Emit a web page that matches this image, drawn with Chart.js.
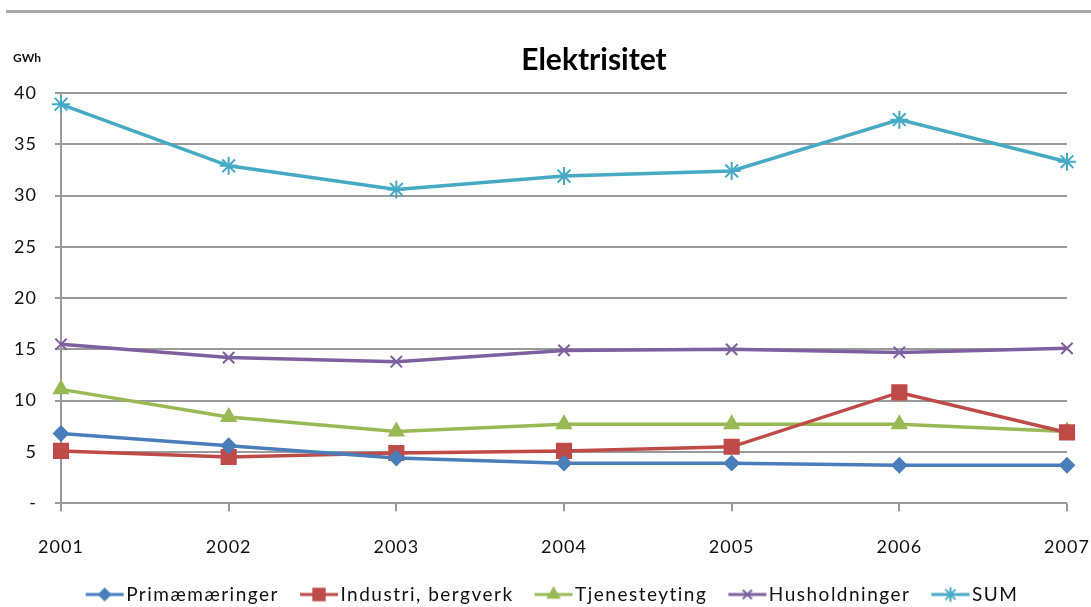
<!DOCTYPE html>
<html>
<head>
<meta charset="utf-8">
<script src="https://cdn.jsdelivr.net/npm/chart.js@4.4.0/dist/chart.umd.min.js"></script>
<style>
  html, body { margin: 0; padding: 0; background: #fff; }
  #wrap { position: relative; width: 1091px; height: 607px; }
  #topline { position: absolute; left: 6px; top: 10px; width: 1085px; height: 3px; background: #a8a8a8; }
  canvas { position: absolute; left: 0; top: 0; }
</style>
</head>
<body>
<div id="wrap">
  <div id="topline"></div>
  <canvas id="graficoElektrisitet" width="1091" height="607"></canvas>
</div>
<script>
const aar = ['2001', '2002', '2003', '2004', '2005', '2006', '2007'];
const primaer = [6.8, 5.6, 4.4, 3.9, 3.9, 3.7, 3.7];
const industri = [5.1, 4.5, 4.9, 5.1, 5.5, 10.8, 6.9];
const tjeneste = [11.1, 8.4, 7.0, 7.7, 7.7, 7.7, 7.0];
const husholdninger = [15.5, 14.2, 13.8, 14.9, 15.0, 14.7, 15.1];
const sum = [38.9, 32.9, 30.6, 31.9, 32.4, 37.4, 33.3];

const fontFam = 'Lato, "Open Sans", "DejaVu Sans", sans-serif';

const serier = [
    { navn: 'Primæmæringer', data: primaer, farge: '#4a7ebb', stil: 'rectRot', r: 7 },
    { navn: 'Industri, bergverk', data: industri, farge: '#be4b48', stil: 'rect', r: 10 },
    { navn: 'Tjenesteyting', data: tjeneste, farge: '#98b954', stil: 'triangle', r: 8 },
    { navn: 'Husholdninger', data: husholdninger, farge: '#7d60a0', stil: 'crossRot', r: 8 },
    { navn: 'SUM', data: sum, farge: '#46aac5', stil: 'star', r: 9 }
];

// liten ikon med linje + markør for legenden
function lagIkon(s) {
    const c = document.createElement('canvas');
    c.width = 40;
    c.height = 18;
    const g = c.getContext('2d');
    g.strokeStyle = s.farge;
    g.lineWidth = 3;
    g.beginPath();
    g.moveTo(1, 9);
    g.lineTo(39, 9);
    g.stroke();
    g.fillStyle = s.farge;
    g.lineWidth = 2;
    Chart.helpers.drawPoint(g, { pointStyle: s.stil, radius: s.r * 0.8, rotation: 0, borderWidth: 2 }, 20, 9);
    return c;
}

// kjør en metode med litt bokstavavstand (teksten i originalen er bred)
function medAvstand(obj, navn, avstand) {
    if (!obj || obj['_orig_' + navn]) return;
    const orig = obj[navn];
    obj['_orig_' + navn] = orig;
    obj[navn] = function (...args) {
        const c = this.ctx;
        const gammel = c.letterSpacing;
        c.letterSpacing = avstand;
        const res = orig.apply(this, args);
        c.letterSpacing = gammel;
        return res;
    };
}

const ekstraPlugin = {
    id: 'ekstra',
    beforeLayout(chart) {
        medAvstand(chart.legend, 'fit', '1.5px');
        medAvstand(chart.legend, 'draw', '1.5px');
        medAvstand(chart.scales.x, 'draw', '1px');
        medAvstand(chart.scales.y, 'draw', '1px');
    },
    afterLayout(chart) {
        // tittel og legende står litt til høyre for midten i originalen
        chart.titleBlock.left += 121;
        chart.legend.left += 44;
    },
    afterDraw(chart) {
        const ctx = chart.ctx;
        const x = chart.scales.x;
        const bunn = chart.chartArea.bottom;
        ctx.save();
        // korte merker under x-aksen
        ctx.strokeStyle = '#999';
        ctx.lineWidth = 2;
        x.ticks.forEach((t, i) => {
            const px = Math.round(x.getPixelForTick(i));
            ctx.beginPath();
            ctx.moveTo(px, bunn);
            ctx.lineTo(px, bunn + 8);
            ctx.stroke();
        });
        ctx.font = 'bold 12px ' + fontFam;
        ctx.fillStyle = '#111';
        ctx.textBaseline = 'middle';
        ctx.textAlign = 'left';
        ctx.fillText('GWh', 13, 58);
        ctx.restore();
    }
};

const ctx = document.getElementById('graficoElektrisitet').getContext('2d');

new Chart(ctx, {
    type: 'line',
    data: {
        labels: aar,
        datasets: serier.map(s => ({
            label: s.navn,
            data: s.data,
            borderColor: s.farge,
            backgroundColor: s.farge,
            borderWidth: 3.5,
            pointStyle: s.stil,
            pointRadius: s.r,
            pointBorderWidth: 2,
            pointBorderColor: s.farge,
            pointBackgroundColor: s.farge,
            tension: 0,
            clip: false
        }))
    },
    options: {
        responsive: false,
        animation: false,
        layout: {
            padding: { top: 40, right: 24, bottom: -7, left: 0 }
        },
        plugins: {
            title: {
                display: true,
                text: 'Elektrisitet',
                color: '#000',
                font: { family: fontFam, size: 30, weight: 'bold' },
                padding: { top: 2, bottom: 15 }
            },
            legend: {
                position: 'bottom',
                labels: {
                    usePointStyle: true,
                    pointStyleWidth: 24,
                    padding: 28,
                    color: '#111',
                    font: { family: fontFam, size: 19 },
                    generateLabels(chart) {
                        return serier.map((s, i) => ({
                            text: s.navn,
                            fillStyle: s.farge,
                            strokeStyle: s.farge,
                            fontColor: '#111',
                            pointStyle: lagIkon(s),
                            datasetIndex: i,
                            hidden: false,
                            lineWidth: 0
                        }));
                    }
                }
            },
            tooltip: { enabled: false }
        },
        scales: {
            x: {
                offset: false,
                grid: {
                    display: true,
                    drawOnChartArea: false,
                    drawTicks: true,
                    tickLength: 34,
                    tickColor: 'rgba(0,0,0,0)'
                },
                border: { display: false },
                ticks: {
                    color: '#111',
                    padding: 0,
                    maxRotation: 0,
                    font: { family: fontFam, size: 18, lineHeight: 1.1 }
                }
            },
            y: {
                min: 0,
                max: 40,
                afterFit(scale) { scale.width = 61; },
                grid: {
                    color: '#9a9a9a',
                    lineWidth: 2,
                    tickLength: 6
                },
                border: { display: true, color: '#9a9a9a', width: 2 },
                ticks: {
                    stepSize: 5,
                    color: '#111',
                    padding: 18,
                    font: { family: fontFam, size: 18 },
                    callback: v => (v === 0 ? '-' : v)
                }
            }
        }
    },
    plugins: [ekstraPlugin]
});
</script>
</body>
</html>
